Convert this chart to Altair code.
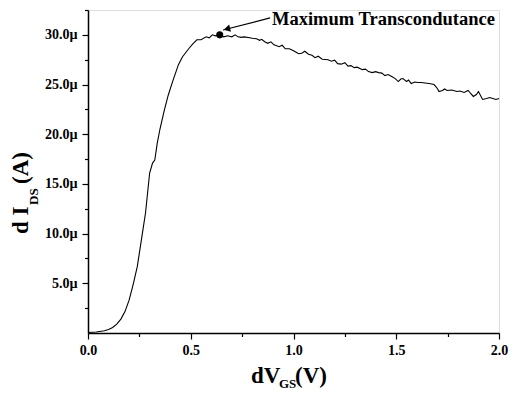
import altair as alt
import pandas as pd

# ---- data ----
vgs = [0.00, 0.04, 0.08, 0.10, 0.12, 0.14, 0.16, 0.18, 0.20, 0.22, 0.24, 0.26, 0.28, 0.30,
       0.314, 0.325, 0.337, 0.35, 0.37, 0.39, 0.41, 0.44, 0.46, 0.49, 0.51, 0.53, 0.55, 0.575,
       0.59, 0.605, 0.62, 0.641, 0.66, 0.68, 0.70, 0.716, 0.73, 0.745, 0.76, 0.787, 0.80, 0.82,
       0.835, 0.845, 0.86, 0.875, 0.89, 0.905, 0.93, 0.945, 0.96, 0.98, 1.00, 1.025, 1.04, 1.055,
       1.073, 1.09, 1.105, 1.12, 1.14, 1.168, 1.185, 1.20, 1.215, 1.232, 1.25, 1.265, 1.28, 1.295,
       1.31, 1.335, 1.35, 1.365, 1.383, 1.40, 1.414, 1.43, 1.445, 1.46, 1.478, 1.495, 1.51, 1.522,
       1.533, 1.55, 1.56, 1.573, 1.59, 1.605, 1.621, 1.64, 1.66, 1.684, 1.70, 1.708, 1.725, 1.735,
       1.748, 1.77, 1.795, 1.81, 1.83, 1.85, 1.862, 1.875, 1.89, 1.90, 1.92, 1.94, 1.955, 1.97,
       1.985, 2.00]
ids_u = [0.05, 0.10, 0.22, 0.35, 0.55, 0.90, 1.40, 2.15, 3.30, 4.90, 6.70, 9.40, 12.1, 16.1,
         17.1, 17.4, 19.1, 20.5, 22.3, 23.9, 25.2, 27.0, 27.8, 28.6, 29.1, 29.5, 29.5, 29.8,
         29.7, 30.0, 29.9, 30.0, 29.8, 29.9, 29.8, 30.0, 29.8, 29.75, 29.8, 29.7, 29.65, 29.6,
         29.45, 29.55, 29.3, 29.15, 29.3, 29.0, 28.8, 28.95, 28.6, 28.6, 28.4, 28.1, 28.15, 28.35,
         28.05, 27.95, 27.7, 27.85, 27.55, 27.5, 27.35, 27.45, 27.1, 27.05, 27.2, 26.85, 26.9, 26.7,
         26.75, 26.5, 26.55, 26.3, 26.2, 26.3, 26.2, 26.15, 25.9, 26.0, 25.8, 25.6, 25.3, 25.55,
         25.6, 25.3, 25.45, 25.1, 25.25, 25.2, 25.2, 25.15, 25.1, 25.0, 24.6, 24.3, 24.4, 24.55,
         24.4, 24.45, 24.3, 24.35, 24.2, 24.4, 24.1, 23.8, 24.0, 24.3, 23.5, 23.6, 23.7, 23.6,
         23.5, 23.6]

max_point_v = [0.641]
max_point_i = [30.0]
annotation_text = "Maximum Transcondutance"
arrow_start = [0.886, 31.7]
arrow_tip = [0.657, 30.49]
arrow_head = [0.676, 30.59]

x_ticks = [0.0, 0.25, 0.5, 0.75, 1.0, 1.25, 1.5, 1.75, 2.0]
y_ticks = [2.5, 5, 7.5, 10, 12.5, 15, 17.5, 20, 22.5, 25, 27.5, 30, 32.5]

FONT = "Liberation Serif"

curve = pd.DataFrame({"vgs": vgs, "ids": ids_u})
maxdf = pd.DataFrame({"vgs": max_point_v, "ids": max_point_i})
arrowdf = pd.DataFrame({"vgs": [arrow_start[0]], "ids": [arrow_start[1]],
                        "vgs2": [arrow_tip[0]], "ids2": [arrow_tip[1]]})
headdf = pd.DataFrame({"vgs": [arrow_head[0]], "ids": [arrow_head[1]]})

xscale = alt.Scale(domain=[0, 2], nice=False, zero=False)
yscale = alt.Scale(domain=[0, 32.5], nice=False, zero=False)

xaxis = alt.Axis(
    values=x_ticks, title=None, grid=False,
    labelExpr="round(datum.value*4) % 2 === 0 ? format(datum.value, '.1f') : ''",
    tickSize={"condition": {"test": "round(datum.value*4) % 2 === 0", "value": 6}, "value": 3.5},
    labelPadding=4, labelFont=FONT, labelFontWeight="bold", labelFontSize=14,
    labelColor="black", domainColor="black", domainWidth=1.5, tickColor="black",
    tickWidth=1.2, labelFlush=False,
)
yaxis = alt.Axis(
    values=y_ticks, title=None, grid=False,
    labelExpr="datum.value % 5 === 0 ? format(datum.value, '.1f') + 'µ' : ''",
    tickSize={"condition": {"test": "datum.value % 5 === 0", "value": 6}, "value": 3.5},
    labelPadding=5, labelFont=FONT, labelFontWeight="bold", labelFontSize=14,
    labelColor="black", domainColor="black", domainWidth=1.5, tickColor="black",
    tickWidth=1.2, labelFlush=False,
)

x_enc = alt.X("vgs:Q", scale=xscale, axis=xaxis)
y_enc = alt.Y("ids:Q", scale=yscale, axis=yaxis)

line = alt.Chart(curve).mark_line(color="black", strokeWidth=1.1).encode(x=x_enc, y=y_enc)
pt = alt.Chart(maxdf).mark_point(filled=True, color="black", size=50, opacity=1).encode(x=x_enc, y=y_enc)
arrow = alt.Chart(arrowdf).mark_rule(color="black", strokeWidth=1.2).encode(
    x=x_enc, y=y_enc, x2="vgs2:Q", y2="ids2:Q")
head = alt.Chart(headdf).mark_point(shape="triangle-right", filled=True, color="black",
                                    size=55, opacity=1, angle=166).encode(x=x_enc, y=y_enc)

one = alt.Data(values=[{}])


def txt(text, x, y, size, angle=0):
    kw = dict(text=text, font=FONT, fontWeight="bold", fontSize=size, color="black",
              align="left", baseline="alphabetic")
    if angle:
        kw["angle"] = angle
    return alt.Chart(one).mark_text(**kw).encode(x=alt.value(x), y=alt.value(y))


texts = [
    txt(annotation_text, 184, 15, 18.5),
    # x title: dV_GS(V)
    txt("dV", 163, 373, 23),
    txt("GS", 191, 378, 13),
    txt("(V)", 207, 373, 23),
    # y title: d I_DS(A)
    txt("d I", -60, 224, 23, angle=270),
    txt("DS", -50, 195, 13, angle=270),
    txt("(A)", -60, 174, 23, angle=270),
]

chart = alt.layer(line, pt, arrow, head, *texts).properties(
    width=411, height=323,
    autosize=alt.AutoSizeParams(type="none"),
    padding={"left": 80, "top": 2, "right": 10, "bottom": 58},
).configure_view(stroke=None).configure(background="white")

chart.save("out.html", embed_options={"renderer": "svg", "actions": False})
